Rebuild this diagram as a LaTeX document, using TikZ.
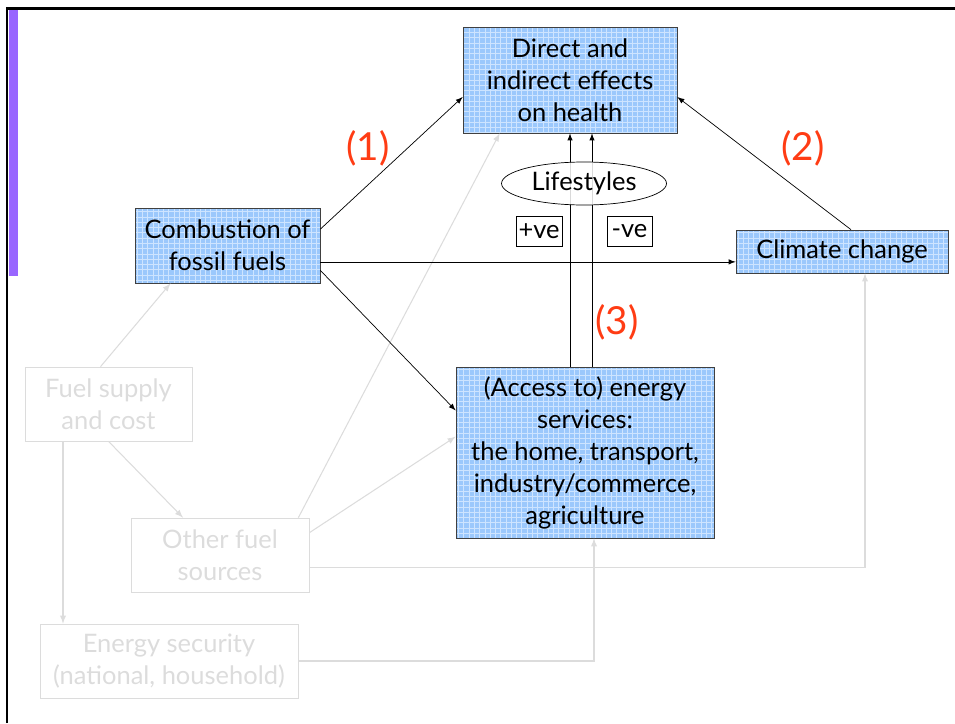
\documentclass[tikz,border=0pt]{standalone}
\usepackage{fontspec}
\setmainfont{Lato}
\usetikzlibrary{positioning, patterns, shapes.geometric}
\definecolor{boxblue}{RGB}{155,200,252}
\definecolor{gridblue}{RGB}{205,228,255}
\definecolor{faint}{RGB}{220,220,220}
\definecolor{numred}{RGB}{255,60,20}
\definecolor{barpurple}{RGB}{153,102,255}

\begin{document}
\begin{tikzpicture}[x=0.02cm, y=-0.02cm, >=latex,
  bluebox/.style={draw=black!75, preaction={fill=boxblue}, pattern=grid, pattern color=gridblue,
    align=center, font=\fontsize{14.5}{18.2}\selectfont, inner sep=2pt},
  greybox/.style={draw=faint, text=faint, align=center, font=\fontsize{14.5}{18.2}\selectfont, inner sep=2pt},
  greyline/.style={draw=faint, line width=0.6pt},
  numlabel/.style={text=numred, font=\fontsize{22}{26}\selectfont}]
\useasboundingbox (0,0) rectangle (955,723);
% frame
\fill[barpurple] (9,10) rectangle (18,276);
\draw[line width=1.6pt] (7,723) -- (7,8.5) -- (955,8.5);

% main boxes
\node[bluebox, minimum width=4.28cm, minimum height=2.12cm] (health) at (570,80) {Direct and\\indirect effects\\on health};
\node[bluebox, minimum width=3.7cm, minimum height=1.5cm] (comb) at (227.5,245.5) {Combustion of\\fossil fuels};
\node[bluebox, minimum width=4.24cm, minimum height=0.86cm] (clim) at (842,251.5) {Climate change};
\node[bluebox, minimum width=5.16cm, minimum height=3.42cm] (energy) at (585,452.5) {(Access to) energy\\services:\\the home, transport,\\industry/commerce,\\agriculture};

% faint boxes
\node[greybox, minimum width=3.34cm, minimum height=1.48cm] (fuel) at (108.5,404) {Fuel supply\\and cost};
\node[greybox, minimum width=3.56cm, minimum height=1.48cm] (other) at (220,555) {Other fuel\\sources};
\node[greybox, minimum width=5.16cm, minimum height=1.48cm] (ensec) at (169,661) {Energy security\\(national, household)};

% faint links
\draw[greyline, ->] ([xshift=-0.16cm]fuel.north) -- ([xshift=-1.14cm]comb.south);
\draw[greyline, ->] (fuel.south) -- ([xshift=-0.74cm]other.north);
\draw[greyline, ->] ([xshift=-0.91cm]fuel.south) -- ([xshift=-0.91cm]fuel.south |- ensec.north);
\draw[greyline, ->] ([xshift=-0.22cm]other.north east) -- ([xshift=0.74cm]health.south west);
\draw[greyline, ->] (other.14) -- (energy.173);
\draw[greyline, ->] (other.-8) -| ([xshift=0.46cm]clim.south);
\draw[greyline, ->] (ensec.east) -| ([xshift=0.18cm]energy.south);

% main links
\draw[->] (comb.10) -- (health.189);
\draw[->] (comb.-10) -- (comb.-10 -| clim.west);
\draw[->] (comb.-15) -- (energy.162);
\draw[->] ([xshift=0.18cm]clim.north) -- (health.-9);
\draw[->] ([xshift=-0.3cm]energy.north) -- ([xshift=-0.3cm]energy.north |- health.south);
\draw[->] ([xshift=0.14cm]energy.north) -- ([xshift=0.14cm]energy.north |- health.south);

% lifestyles
\node[draw, ellipse, fill=white, fill opacity=0.85, text opacity=1, minimum width=3.3cm, minimum height=0.86cm,
  font=\fontsize{14.5}{17}\selectfont, inner sep=1pt] (life) at (584,183.5) {Lifestyles};
\node[draw, minimum width=0.92cm, minimum height=0.6cm, inner sep=1pt, font=\fontsize{14.5}{17}\selectfont] (pos) at (539,231) {+ve};
\node[draw, minimum width=0.9cm, minimum height=0.6cm, inner sep=1pt, font=\fontsize{14.5}{17}\selectfont] (neg) at (629.5,231) {-ve};

% numbers
\node[numlabel] (n1) at (368,148) {(1)};
\node[numlabel] (n2) at (803,148) {(2)};
\node[numlabel] (n3) at (617,322) {(3)};
\end{tikzpicture}
\end{document}
